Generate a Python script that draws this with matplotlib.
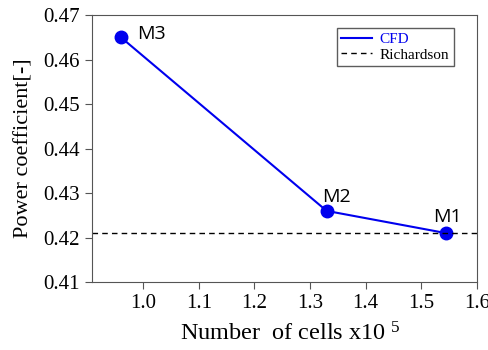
import matplotlib
matplotlib.use("Agg")
import matplotlib.pyplot as plt

# grid sizes (x10^5 cells) and power coefficients
cells = [0.96, 1.33, 1.545]
cp = [0.465, 0.426, 0.421]
mesh_names = ["M3", "M2", "M1"]
cp_richardson = 0.421

plt.rcParams["font.family"] = "Liberation Serif"
plt.rcParams["mathtext.fontset"] = "custom"
plt.rcParams["mathtext.rm"] = "Liberation Serif"
plt.rcParams["mathtext.it"] = "Liberation Serif"

fig = plt.figure(figsize=(4.88, 3.5), dpi=100)
ax = fig.add_axes([0.1885, 0.194, 0.7885, 0.763])

ax.plot(cells, cp, color="#0000ee", lw=1.5, label="CFD")
ax.plot(cells, cp, ls="none", color="#0000ee", marker="o", ms=9)
ax.axhline(cp_richardson, color="black", lw=1.0, ls=(0, (4, 3)), label="Richardson")

# label offsets in points (text baseline relative to marker)
offsets = [(12, -1.5), (-3, 6.5), (-9.5, 8)]
for x, y, name, off in zip(cells, cp, mesh_names, offsets):
    ax.annotate(name, (x, y), xytext=off, textcoords="offset points",
                fontsize=14, family="Open Sans", va="baseline")

ax.set_xlim(0.908, 1.6)
ax.set_ylim(0.41, 0.47)
ax.set_xticks([1.0, 1.1, 1.2, 1.3, 1.4, 1.5, 1.6])
ax.set_yticks([0.41, 0.42, 0.43, 0.44, 0.45, 0.46, 0.47])
ax.tick_params(labelsize=15, color="#555555", length=5)

ax.set_xlabel(r"Number  of cells x10 $^{5}$", fontsize=17.5, labelpad=8)
ax.xaxis.set_label_coords(0.517, -0.15)
ax.set_ylabel("Power coefficient[-]", fontsize=16, labelpad=7)

for s in ax.spines.values():
    s.set_color("#555555")

leg = ax.legend(loc="upper right", fontsize=11, fancybox=False,
                edgecolor="#333333", handlelength=2.0, borderpad=0.3,
                labelspacing=0.1, handletextpad=0.5, borderaxespad=0,
                bbox_to_anchor=(0.940, 0.951))
leg.get_frame().set_linewidth(1.0)
leg.get_texts()[0].set_color("#0000ee")

fig.savefig("out.png", dpi=100)
